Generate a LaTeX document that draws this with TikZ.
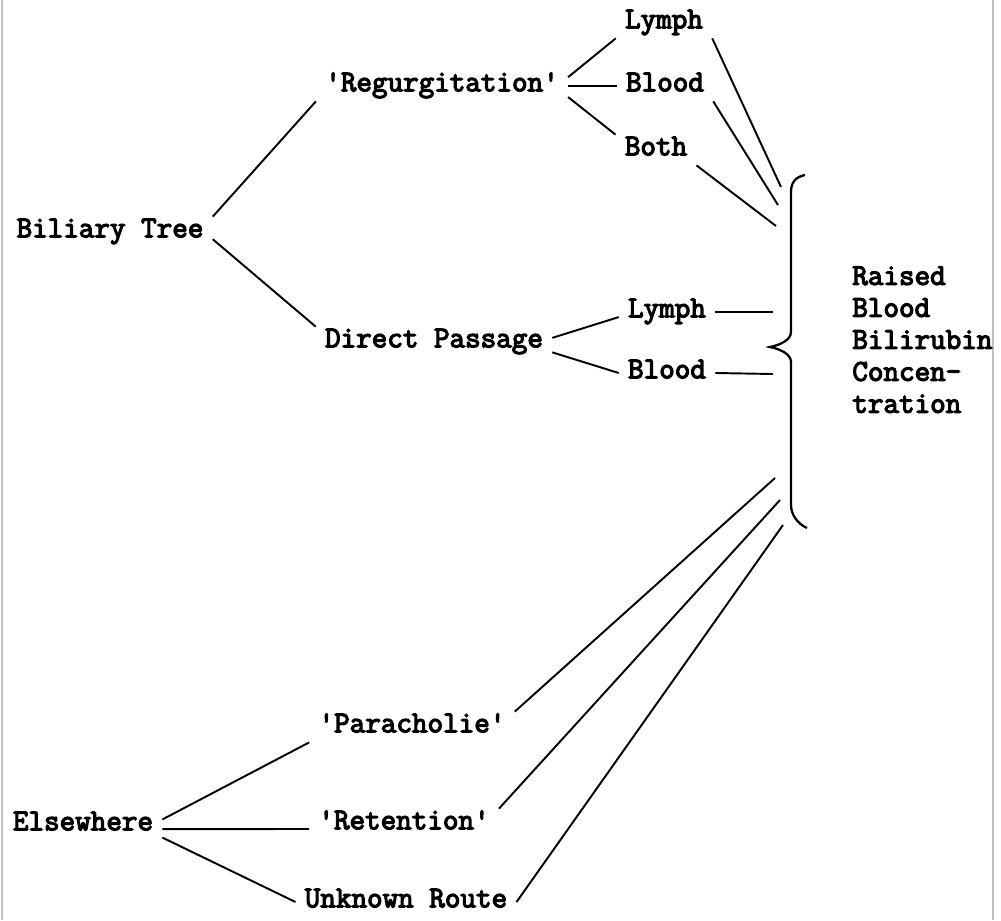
\documentclass[tikz,border=0pt]{standalone}
\usepackage{fontspec}
\newfontfamily\typew{Latin Modern Mono}[FakeBold=4]
\usepackage{tikz}

\begin{document}
\begin{tikzpicture}[x=0.02cm, y=-0.02cm,
    txt/.style={font=\typew\fontsize{17.2}{18.2}\selectfont, inner xsep=0.18cm, inner ysep=0pt},
    lbl/.style={txt, minimum height=0.6cm, text height=9pt, text depth=3pt},
    ln/.style={line width=1.1pt},
    edge/.style={draw=black!25, line width=0.6pt}]
			\useasboundingbox (0,0) rectangle (1001,920);
			\draw[edge] (2,0) -- (2,920);
			\draw[edge] (993,0) -- (993,920);
			\node[lbl] (bil) at (110,232) {Biliary Tree};
			\node[lbl] (reg) at (442,86) {'Regurgitation'};
			\node[lbl] (lymph1) at (664,23) {Lymph};
			\node[lbl] (blood1) at (665,86) {Blood};
			\node[lbl] (both) at (656,150) {Both};
			\node[lbl] (dp) at (434,342) {Direct Passage};
			\node[lbl] (lymph2) at (667,312) {Lymph};
			\node[lbl] (blood2) at (667,373) {Blood};
			\node[lbl] (els) at (83,825) {Elsewhere};
			\node[lbl] (para) at (412,727) {'Paracholie'};
			\node[lbl] (ret) at (404,824) {'Retention'};
			\node[lbl] (unk) at (406,902) {Unknown Route};
			\node[txt, anchor=north west, align=left] (raised) at (843,266) {Raised\\Blood\\Bilirubin\\Concen-\\tration};
			\coordinate (t1) at (781,187);
			\coordinate (t2) at (778,205);
			\coordinate (t3) at (776,226);
			\coordinate (d1) at (773,312);
			\coordinate (d2) at (773,374);
			\coordinate (b1) at (775,478);
			\coordinate (b2) at (780,500);
			\coordinate (b3) at (783,525);
			\draw[line width=1.3pt] (805,175) .. controls (795,177) and (791,183) .. (791,192) -- (791,332) .. controls (791,340) and (780,345) .. (770,347) .. controls (780,349) and (791,354) .. (791,362) -- (791,505) .. controls (791,515) and (798,524) .. (807,528);
			\draw[ln] (bil.north east) -- (reg.south west);
			\draw[ln] (bil.-4) -- (dp.north west);
			\draw[ln] (reg.4) -- (lymph1.south west);
			\draw[ln] (reg.east) -- (blood1.west);
			\draw[ln] (reg.-5) -- (both.north west);
			\draw[ln] (lymph1.south east) -- (t1);
			\draw[ln] (blood1.south east) -- (t2);
			\draw[ln] (both.south east) -- (t3);
			\draw[ln] (dp.2) -- (lymph2.186);
			\draw[ln] (dp.-5) -- (blood2.west);
			\draw[ln] (lymph2.east) -- (d1);
			\draw[ln] (blood2.east) -- (d2);
			\draw[ln] (els.4) -- (para.south west);
			\draw[ln] (els.-3) -- (ret.183);
			\draw[ln] (els.-9) -- (unk.west);
			\draw[ln] (para.north east) -- (b1);
			\draw[ln] (ret.north east) -- (b2);
			\draw[ln] (unk.east) -- (b3);
			\end{tikzpicture}
\end{document}
